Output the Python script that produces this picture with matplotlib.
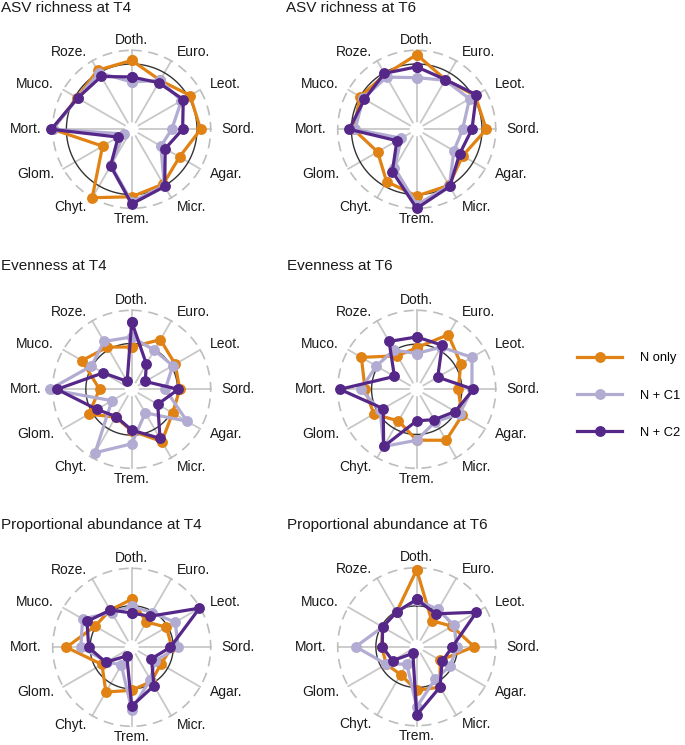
import numpy as np
import matplotlib.pyplot as plt
from matplotlib.lines import Line2D

plt.rcParams["font.family"] = ["Liberation Sans", "DejaVu Sans"]

categories = ["Doth.", "Euro.", "Leot.", "Sord.", "Agar.", "Micr.",
              "Trem.", "Chyt.", "Glom.", "Mort.", "Muco.", "Roze."]
series_labels = ["N only", "N + C1", "N + C2"]
series_colors = ["#e08214", "#b2abd2", "#542788"]

titles = ["ASV richness at T4", "ASV richness at T6",
          "Evenness at T4", "Evenness at T6",
          "Proportional abundance at T4", "Proportional abundance at T6"]

# reference (black) circle of each panel, same scale as the values
ref_levels = [0.81, 0.81, 0.54, 0.53, 0.48, 0.47]

# values scaled so that the dashed outer circle is 1
asv_t4_n = [.86, .69, .84, .86, .67, .78, .84, 1.0, .37, 1.0, .78, .85]
asv_t4_c1 = [.56, .69, .70, .46, .37, .81, .91, .48, .03, 1.0, .77, .81]
asv_t4_c2 = [.63, .65, .73, .61, .44, .82, .94, .49, .12, 1.02, .77, .75]

asv_t6_n = [.94, .70, .84, .87, .64, .80, .83, .74, .53, .78, .81, .78]
asv_t6_c1 = [.62, .69, .75, .54, .50, .81, .95, .52, .15, .76, .76, .74]
asv_t6_c2 = [.77, .70, .86, .67, .59, .82, 1.0, .58, .22, .84, .74, .80]

even_t4_n = [.49, .70, .60, .57, .56, .74, .48, .35, .59, .35, .70, .58]
even_t4_c1 = [.63, .53, .56, .37, .79, .28, .66, .92, .22, 1.04, .55, .67]
even_t4_c2 = [.84, .31, .12, .55, .32, .69, .47, .34, .46, .94, .36, .03]

even_t6_n = [.48, .78, .61, .48, .63, .72, .61, .41, .59, .62, .79, .44]
even_t6_c1 = [.40, .58, .79, .67, .59, .42, .61, .82, .49, .68, .55, .53]
even_t6_c2 = [.63, .61, .24, .69, .52, .39, .34, .82, .44, .97, .26, .67]

prop_t4_n = [.57, .31, .46, .46, .37, .45, .50, .62, .38, .81, .49, .50]
prop_t4_c1 = [.47, .46, .60, .55, .28, .42, .77, .19, .30, .61, .69, .46]
prop_t4_c2 = [.38, .40, .99, .44, .22, .52, .72, .04, .32, .50, .62, .50]

prop_t6_n = [.97, .32, .47, .70, .28, .55, .51, .35, .39, .39, .45, .46]
prop_t6_c1 = [.55, .50, .50, .46, .44, .42, .74, .18, .39, .75, .45, .46]
prop_t6_c2 = [.56, .43, .86, .40, .31, .55, .85, .01, .29, .38, .45, .46]

panel_data = [
    [asv_t4_n, asv_t4_c1, asv_t4_c2],
    [asv_t6_n, asv_t6_c1, asv_t6_c2],
    [even_t4_n, even_t4_c1, even_t4_c2],
    [even_t6_n, even_t6_c1, even_t6_c2],
    [prop_t4_n, prop_t4_c1, prop_t4_c2],
    [prop_t6_n, prop_t6_c1, prop_t6_c2],
]

W, H = 685, 745
fig = plt.figure(figsize=(W / 100, H / 100), dpi=100)

centers = [(131.7, 129.3), (416.7, 129.3), (131.7, 389.3),
           (416.7, 389.3), (131.7, 647.3), (416.7, 646.7)]
title_pos = [(1, 8), (286, 8), (1, 266), (287, 266), (1, 525), (287, 525)]

px_per_unit = 72.0
hole = 7.0 / px_per_unit
rmax = 1.2
R = (rmax + hole) * px_per_unit

theta = np.linspace(0, 2 * np.pi, len(categories), endpoint=False)
circ = np.linspace(0, 2 * np.pi, 361)

for i, (cx, cy) in enumerate(centers):
    ax = fig.add_axes([(cx - R) / W, 1 - (cy + R) / H, 2 * R / W, 2 * R / H],
                      projection="polar")
    ax.set_theta_zero_location("N")
    ax.set_theta_direction(-1)
    ax.set_ylim(0, rmax)
    ax.set_rorigin(-hole)
    ax.axis("off")

    for t in theta:
        ax.plot([t, t], [0, 1.0], color="#c8c8c8", lw=1.3, zorder=1)
    ax.plot(circ, np.full_like(circ, 1.0), color="#bdbdbd", lw=1.2,
            ls=(0, (6, 4)), zorder=1)
    ax.plot(circ, np.full_like(circ, ref_levels[i]), color="#333333",
            lw=1.0, zorder=2)

    for vals, col in zip(panel_data[i], series_colors):
        v = np.array(vals + vals[:1])
        t = np.append(theta, theta[0])
        ax.plot(t, v, color=col, lw=2.3, marker="o", ms=6.8,
                clip_on=False, zorder=3)

    for t, lab in zip(theta, categories):
        s = np.sin(t)
        ha = "left" if s > 0.1 else ("right" if s < -0.1 else "center")
        ax.text(t, 1.15, lab, ha=ha, va="center", fontsize=10,
                color="#1a1a1a", clip_on=False)

    tx, ty = title_pos[i]
    fig.text(tx / W, 1 - ty / H, titles[i], ha="left", va="center",
             fontsize=11, color="#1a1a1a")

handles = [Line2D([0], [0], color=c, lw=2.3, marker="o", ms=6.8)
           for c in series_colors]
fig.legend(handles, series_labels, loc="center left",
           bbox_to_anchor=(572 / W, 1 - 395.7 / H), frameon=False,
           handlelength=3.5, handletextpad=1.4, labelspacing=1.95,
           fontsize=9.3, borderaxespad=0)

fig.savefig("out.png", dpi=100)
